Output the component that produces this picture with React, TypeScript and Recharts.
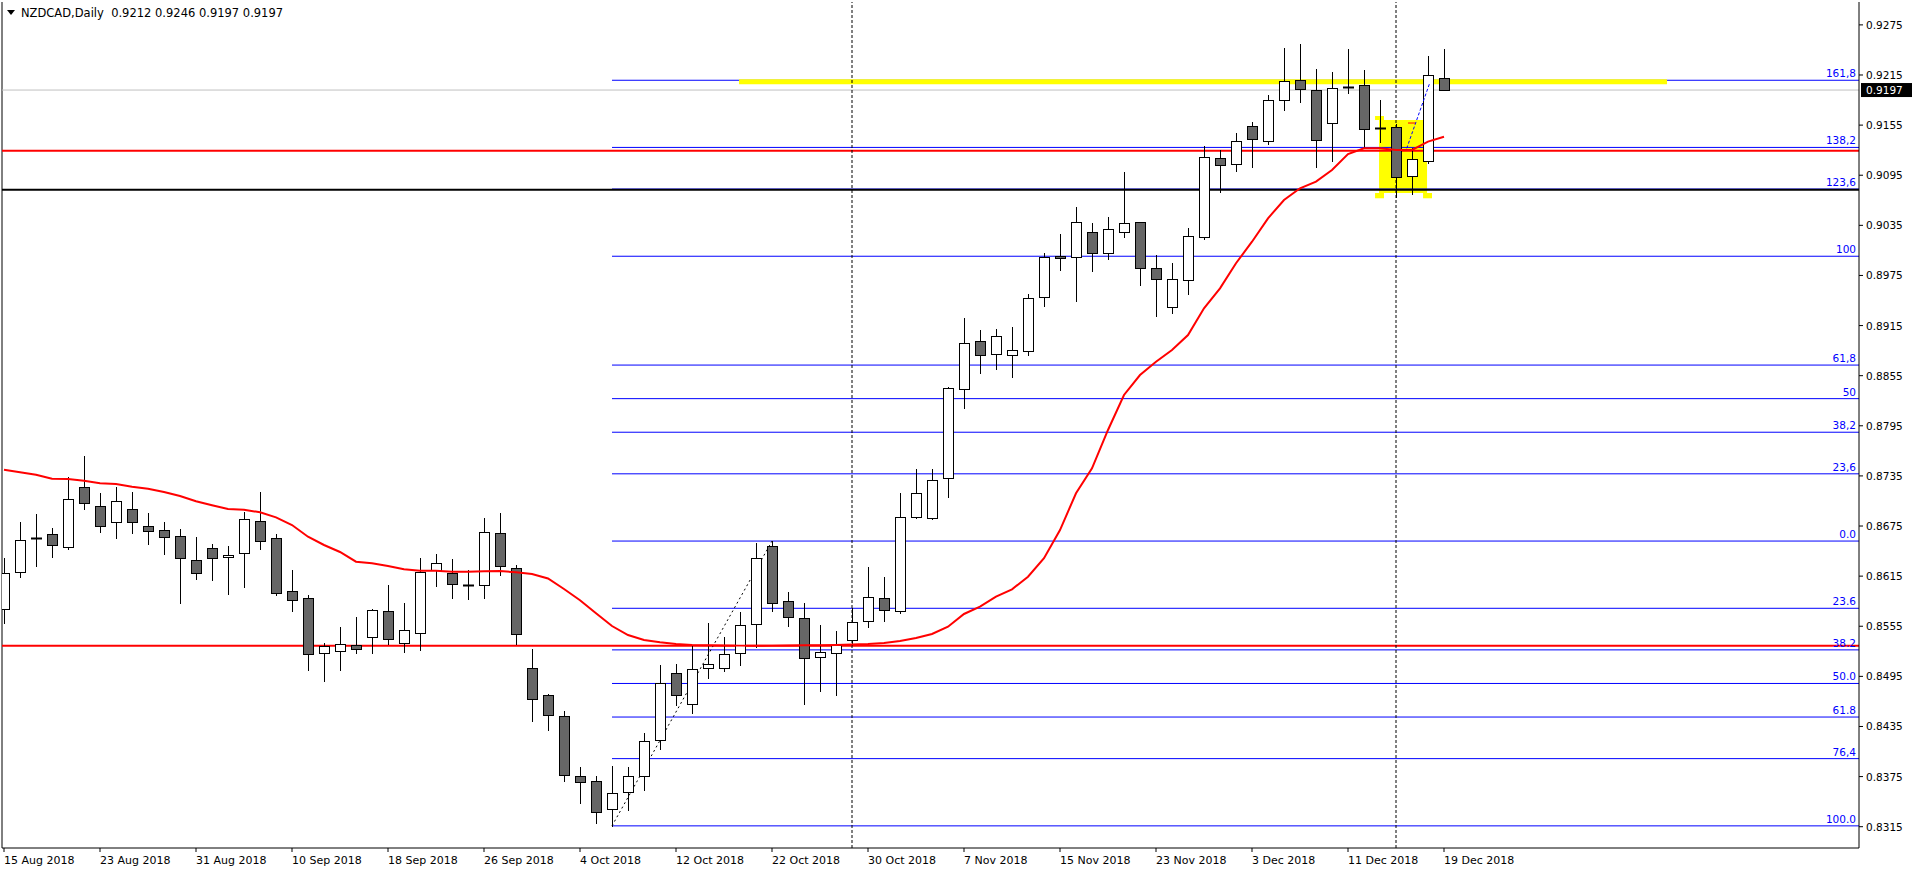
import React from 'react';
import { ComposedChart, Bar, Line, XAxis, YAxis, ReferenceLine, ReferenceArea } from 'recharts';

const dates = [
  '15 Aug 2018','16 Aug 2018','17 Aug 2018','20 Aug 2018','21 Aug 2018','22 Aug 2018','23 Aug 2018','24 Aug 2018','27 Aug 2018','28 Aug 2018','29 Aug 2018','30 Aug 2018','31 Aug 2018',
  '3 Sep 2018','4 Sep 2018','5 Sep 2018','6 Sep 2018','7 Sep 2018','10 Sep 2018','11 Sep 2018','12 Sep 2018','13 Sep 2018','14 Sep 2018','17 Sep 2018','18 Sep 2018','19 Sep 2018','20 Sep 2018','21 Sep 2018','24 Sep 2018','25 Sep 2018','26 Sep 2018','27 Sep 2018','28 Sep 2018',
  '1 Oct 2018','2 Oct 2018','3 Oct 2018','4 Oct 2018','5 Oct 2018','8 Oct 2018','9 Oct 2018','10 Oct 2018','11 Oct 2018','12 Oct 2018','15 Oct 2018','16 Oct 2018','17 Oct 2018','18 Oct 2018','19 Oct 2018','22 Oct 2018','23 Oct 2018','24 Oct 2018','25 Oct 2018','26 Oct 2018','29 Oct 2018','30 Oct 2018','31 Oct 2018',
  '1 Nov 2018','2 Nov 2018','5 Nov 2018','6 Nov 2018','7 Nov 2018','8 Nov 2018','9 Nov 2018','12 Nov 2018','13 Nov 2018','14 Nov 2018','15 Nov 2018','16 Nov 2018','19 Nov 2018','20 Nov 2018','21 Nov 2018','22 Nov 2018','23 Nov 2018','26 Nov 2018','27 Nov 2018','28 Nov 2018','29 Nov 2018','30 Nov 2018',
  '3 Dec 2018','4 Dec 2018','5 Dec 2018','6 Dec 2018','7 Dec 2018','10 Dec 2018','11 Dec 2018','12 Dec 2018','13 Dec 2018','14 Dec 2018','17 Dec 2018','18 Dec 2018','19 Dec 2018',
];

const open = [
  0.85753, 0.86196, 0.8661, 0.86651, 0.86502, 0.87214, 0.86986, 0.86795, 0.8695, 0.86747,
  0.86699, 0.86627, 0.8634, 0.86483, 0.86375, 0.86423, 0.86807, 0.86603, 0.85968, 0.85885,
  0.85226, 0.8525, 0.85322, 0.85418, 0.85729, 0.85346, 0.85466, 0.8622, 0.86184, 0.86044,
  0.8604, 0.86663, 0.86244, 0.85047, 0.84723, 0.84472, 0.83753, 0.83694, 0.83358, 0.83562,
  0.83753, 0.84184, 0.84987, 0.84615, 0.85047, 0.85047, 0.85226, 0.85573, 0.86507, 0.85849,
  0.85645, 0.85178, 0.85226, 0.85382, 0.85609, 0.85885, 0.85729, 0.86854, 0.86842, 0.87321,
  0.88387, 0.88962, 0.88806, 0.88794, 0.88842, 0.89488, 0.89979, 0.89967, 0.90267, 0.90015,
  0.90267, 0.90386, 0.89836, 0.89369, 0.89692, 0.90207, 0.91153, 0.91081, 0.91536, 0.91356,
  0.91847, 0.92087, 0.91967, 0.91572, 0.92003, 0.92027, 0.91519, 0.91531, 0.90937, 0.91117,
  0.9212,
];
const high = [
  0.86364, 0.86798, 0.86894, 0.86726, 0.87333, 0.87588, 0.87145, 0.87217, 0.87157, 0.86906,
  0.86798, 0.86714, 0.86619, 0.86535, 0.86511, 0.86921, 0.87157, 0.86654, 0.86223, 0.85921,
  0.85346, 0.85541, 0.85661, 0.85753, 0.8604, 0.85825, 0.86364, 0.86411, 0.86352, 0.8622,
  0.86842, 0.86902, 0.8628, 0.85274, 0.84735, 0.84535, 0.83861, 0.83757, 0.83877, 0.83865,
  0.84272, 0.8509, 0.85098, 0.85317, 0.85589, 0.85421, 0.85721, 0.86547, 0.8657, 0.8596,
  0.85828, 0.85565, 0.85493, 0.85765, 0.86259, 0.8614, 0.87145, 0.87429, 0.87429, 0.88411,
  0.89237, 0.89093, 0.89105, 0.89129, 0.89524, 0.90015, 0.90243, 0.90566, 0.90374, 0.90446,
  0.90985, 0.9039, 0.89991, 0.89896, 0.90315, 0.91296, 0.91249, 0.91452, 0.91584, 0.91907,
  0.92473, 0.92518, 0.92218, 0.92182, 0.92458, 0.92206, 0.91847, 0.91563, 0.91272, 0.92374,
  0.9246,
];
const low = [
  0.85592, 0.86143, 0.86275, 0.86383, 0.86478, 0.86957, 0.86682, 0.8661, 0.8667, 0.86538,
  0.86419, 0.85832, 0.86119, 0.86107, 0.8594, 0.86023, 0.86478, 0.85924, 0.85736, 0.8503,
  0.84898, 0.8503, 0.85226, 0.85233, 0.85341, 0.85245, 0.85269, 0.86035, 0.85892, 0.8588,
  0.85892, 0.86167, 0.85341, 0.84419, 0.84311, 0.83701, 0.83437, 0.83198, 0.8316, 0.8335,
  0.83593, 0.8408, 0.84611, 0.84515, 0.84934, 0.85018, 0.8509, 0.85305, 0.85736, 0.85553,
  0.84623, 0.84778, 0.8473, 0.85325, 0.85545, 0.85616, 0.8571, 0.86845, 0.8683, 0.87101,
  0.88159, 0.88579, 0.88626, 0.88531, 0.88794, 0.89381, 0.89812, 0.89441, 0.898, 0.89943,
  0.90207, 0.89632, 0.89261, 0.89297, 0.89524, 0.90192, 0.90753, 0.90997, 0.91052, 0.91328,
  0.91727, 0.91823, 0.91045, 0.91117, 0.91931, 0.91272, 0.91351, 0.90693, 0.90722, 0.91096,
  0.9197,
];
const close = [
  0.86184, 0.86583, 0.8661, 0.86519, 0.8707, 0.87022, 0.86747, 0.87046, 0.86795, 0.86687,
  0.86615, 0.86364, 0.86184, 0.86364, 0.86399, 0.8683, 0.86567, 0.85944, 0.85861, 0.85214,
  0.8531, 0.85334, 0.85274, 0.85741, 0.85394, 0.85501, 0.86196, 0.86304, 0.86052, 0.86044,
  0.86675, 0.86268, 0.85454, 0.84675, 0.84484, 0.83765, 0.83682, 0.83322, 0.8355, 0.83753,
  0.84172, 0.84867, 0.84723, 0.85035, 0.85094, 0.85214, 0.85561, 0.86364, 0.85825, 0.85657,
  0.85166, 0.85238, 0.85329, 0.85597, 0.85897, 0.85741, 0.86854, 0.87142, 0.87297, 0.88399,
  0.88938, 0.88794, 0.89022, 0.88854, 0.89476, 0.89967, 0.89955, 0.90386, 0.90015, 0.90303,
  0.90374, 0.89836, 0.89704, 0.89704, 0.90219, 0.91165, 0.91069, 0.91356, 0.9138, 0.91847,
  0.92075, 0.91979, 0.91368, 0.91991, 0.92003, 0.915, 0.91519, 0.90925, 0.91141, 0.92146,
  0.9197,
];
const ma = [
  0.87424, 0.87393, 0.87364, 0.87317, 0.87313, 0.87293, 0.87261, 0.87253, 0.87221, 0.87197,
  0.87157, 0.87109, 0.87046, 0.86998, 0.86954, 0.86945, 0.86914, 0.86854, 0.86762, 0.86622,
  0.86523, 0.86439, 0.86323, 0.86304, 0.86271, 0.86232, 0.86215, 0.86215, 0.86203, 0.86203,
  0.86208, 0.86211, 0.86196, 0.86176, 0.86122, 0.85996, 0.85861, 0.85705, 0.85553, 0.85445,
  0.85385, 0.85358, 0.85337, 0.85325, 0.85322, 0.8532, 0.85318, 0.85316, 0.85318, 0.8532,
  0.85322, 0.85322, 0.85325, 0.8533, 0.85337, 0.85349, 0.85373, 0.85409, 0.85457, 0.85545,
  0.85697, 0.85784, 0.85904, 0.85992, 0.86143, 0.86364, 0.86702, 0.87142, 0.87441, 0.879,
  0.88319, 0.88558, 0.88717, 0.88857, 0.89037, 0.89357, 0.89596, 0.89896, 0.90154, 0.90434,
  0.90653, 0.90794, 0.90873, 0.91013, 0.91204, 0.91272, 0.91272, 0.91252, 0.91252, 0.91352,
  0.91411,
];

const tickLabels = [
  '15 Aug 2018','23 Aug 2018','31 Aug 2018','10 Sep 2018','18 Sep 2018','26 Sep 2018','4 Oct 2018','12 Oct 2018',
  '22 Oct 2018','30 Oct 2018','7 Nov 2018','15 Nov 2018','23 Nov 2018','3 Dec 2018','11 Dec 2018','19 Dec 2018',
];
const priceTicks = [
  0.8315, 0.8375, 0.8435, 0.8495, 0.8555, 0.8615, 0.8675, 0.8735, 0.8795,
  0.8855, 0.8915, 0.8975, 0.9035, 0.9095, 0.9155, 0.9215, 0.9275,
];

const lowerFibLevels = [0.8657, 0.85765, 0.85267, 0.84865, 0.84463, 0.83965, 0.8316];
const lowerFibLabels = ['0.0', '23.6', '38.2', '50.0', '61.8', '76,4', '100.0'];
const upperFibLevels = [0.87375, 0.87873, 0.88275, 0.88677, 0.8998, 0.90785, 0.91283, 0.92087];
const upperFibLabels = ['23,6', '38,2', '50', '61,8', '100', '123,6', '138,2', '161,8'];

const redLevels = [0.91244, 0.85317];
const blackLevel = 0.90777;
const vLineDates = ['29 Oct 2018', '14 Dec 2018'];
const swingLow = { date: '8 Oct 2018', price: 0.8316 };
const swingHigh = { date: '22 Oct 2018', price: 0.8657 };
const yellowBand = { from: 45.94, to: 103.94, price: 0.92069 };
const yellowBox = { x1: 85.94, x2: 88.94, y1: 0.90737, y2: 0.91611 };
const yellowHandles = [
  { x1: 85.69, x2: 86.25, y1: 0.91611, y2: 0.91659 },
  { x1: 85.69, x2: 86.25, y1: 0.90674, y2: 0.90737 },
  { x1: 88.69, x2: 89.25, y1: 0.90674, y2: 0.90737 },
];
const blueDotted = [{ x: 87.67, y: 0.91272 }, { x: 89.1, y: 0.9205 }];
const redDash = [{ x: 87.75, y: 0.91575 }, { x: 88.2, y: 0.91575 }];

const X_MIN = -0.125;
const X_MAX = 115.9375;
const Y_MIN = 0.82895;
const Y_MAX = 0.93024;

const rows = dates.map((d, i) => ({
  i,
  date: d,
  open: open[i],
  high: high[i],
  low: low[i],
  close: close[i],
  ma: ma[i],
  range: [low[i], high[i]],
}));

const tickIdx = tickLabels.map((t) => dates.indexOf(t));
const lastClose = close[close.length - 1];
const FONT = "'DejaVu Sans', Verdana, sans-serif";
const BLUE = '#0000ff';

const Candle = (props: any) => {
  const { x, y, width, height, payload } = props;
  if (x == null || y == null || !payload) return null;
  const top = Math.min(y, y + height);
  const bottom = Math.max(y, y + height);
  const span = payload.high - payload.low;
  const toY = (v: number) => (span === 0 ? top : top + ((payload.high - v) / span) * (bottom - top));
  const cx = Math.round(x + width / 2) + 0.5;
  const yo = toY(payload.open);
  const yc = toY(payload.close);
  const bull = payload.close >= payload.open;
  const bTop = Math.round(Math.min(yo, yc)) + 0.5;
  const bBot = Math.round(Math.max(yo, yc)) + 0.5;
  return (
    <g>
      <line x1={cx} x2={cx} y1={Math.round(top)} y2={Math.round(bottom) + 1} stroke="#000" strokeWidth={1} />
      {bBot - bTop < 1 ? (
        <line x1={cx - 5.5} x2={cx + 5.5} y1={bTop} y2={bTop} stroke="#000" strokeWidth={2} />
      ) : (
        <rect x={cx - 5} y={bTop} width={10} height={bBot - bTop} fill={bull ? '#ffffff' : '#666666'} stroke="#000" strokeWidth={1} />
      )}
    </g>
  );
};

const DateTick = (props: any) => {
  const { x, y, payload } = props;
  return (
    <text x={x} y={y} dy={10} textAnchor="start" fontSize={11} fontFamily={FONT} fill="#000">
      {dates[payload.value]}
    </text>
  );
};

const PriceTick = (props: any) => {
  const { x, y, payload } = props;
  return (
    <text x={x + 1} y={y} dy={4} textAnchor="start" fontSize={10.5} fontFamily={FONT} fill="#000">
      {Number(payload.value).toFixed(4)}
    </text>
  );
};

const PriceTag = (props: any) => {
  const vb = props.viewBox || {};
  const yy = vb.y;
  const xr = vb.x + vb.width;
  return (
    <g>
      <rect x={xr + 2} y={yy - 7} width={51} height={14} fill="#000" />
      <text x={xr + 7} y={yy + 4} fontSize={10.5} fontFamily={FONT} fill="#fff">
        {lastClose.toFixed(4)}
      </text>
    </g>
  );
};

const fibLabel = (text: string) => ({
  value: text,
  position: 'insideBottomRight' as const,
  offset: 3,
  fill: BLUE,
  fontSize: 10.5,
  fontFamily: FONT,
});

export default function App() {
  const fibStart = dates.indexOf(swingLow.date);
  return (
    <div style={{ position: 'absolute', left: 0, top: 0, width: 1912, height: 872, background: '#fff', overflow: 'hidden', fontFamily: FONT }}>
      <ComposedChart width={1912} height={872} data={rows} margin={{ top: 2, right: 0, bottom: 0, left: 2 }}>
        <XAxis
          type="number"
          dataKey="i"
          domain={[X_MIN, X_MAX]}
          allowDataOverflow
          ticks={tickIdx}
          interval={0}
          height={24}
          tickSize={4}
          tickMargin={2}
          axisLine={{ stroke: '#000' }}
          tickLine={{ stroke: '#000' }}
          tick={(p: any) => <DateTick {...p} />}
        />
        <YAxis
          orientation="right"
          type="number"
          domain={[Y_MIN, Y_MAX]}
          allowDataOverflow
          ticks={priceTicks}
          interval={0}
          width={53}
          tickSize={4}
          tickMargin={2}
          axisLine={{ stroke: '#000' }}
          tickLine={{ stroke: '#000' }}
          tick={(p: any) => <PriceTick {...p} />}
        />

        <ReferenceArea x1={yellowBox.x1} x2={yellowBox.x2} y1={yellowBox.y1} y2={yellowBox.y2} fill="#ffff00" fillOpacity={1} stroke="none" zIndex={10} />
        {yellowHandles.map((h, k) => (
          <ReferenceArea key={'yh' + k} x1={h.x1} x2={h.x2} y1={h.y1} y2={h.y2} fill="#ffff00" fillOpacity={1} stroke="none" zIndex={10} />
        ))}

        <ReferenceLine x={X_MIN} stroke="#000" strokeWidth={1} zIndex={30} />
        <ReferenceLine y={lastClose} stroke="#c0c0c0" strokeWidth={1} label={PriceTag} zIndex={30} />

        {upperFibLevels.map((v, k) => (
          <ReferenceLine
            key={'uf' + k}
            segment={[{ x: fibStart, y: v }, { x: X_MAX, y: v }]}
            stroke={BLUE}
            strokeWidth={1}
            label={fibLabel(upperFibLabels[k])}
            zIndex={40}
          />
        ))}
        {lowerFibLevels.map((v, k) => (
          <ReferenceLine
            key={'lf' + k}
            segment={[{ x: fibStart, y: v }, { x: X_MAX, y: v }]}
            stroke={BLUE}
            strokeWidth={1}
            label={fibLabel(lowerFibLabels[k])}
            zIndex={40}
          />
        ))}

        <ReferenceLine
          segment={[{ x: yellowBand.from, y: yellowBand.price }, { x: yellowBand.to, y: yellowBand.price }]}
          stroke="#ffff00"
          strokeWidth={5}
          zIndex={45}
        />

        {redLevels.map((v, k) => (
          <ReferenceLine key={'rl' + k} y={v} stroke="#ff0000" strokeWidth={2} zIndex={50} />
        ))}
        <ReferenceLine y={blackLevel} stroke="#000" strokeWidth={2} zIndex={50} />

        {vLineDates.map((d) => (
          <ReferenceLine key={d} x={dates.indexOf(d)} stroke="#000" strokeWidth={1} strokeDasharray="3 2" zIndex={60} />
        ))}
        <ReferenceLine
          segment={[
            { x: dates.indexOf(swingLow.date), y: swingLow.price },
            { x: dates.indexOf(swingHigh.date), y: swingHigh.price },
          ]}
          stroke="#000"
          strokeWidth={1}
          strokeDasharray="2 3"
          zIndex={60}
        />

        <Bar dataKey="range" barSize={10} shape={Candle} isAnimationActive={false} />
        <Line dataKey="ma" type="linear" stroke="#ff0000" strokeWidth={2} dot={false} activeDot={false} isAnimationActive={false} />

        <ReferenceLine segment={blueDotted} stroke={BLUE} strokeWidth={1} strokeDasharray="3 2" zIndex={700} />
        <ReferenceLine segment={redDash} stroke="#ff0000" strokeWidth={1} zIndex={700} />
      </ComposedChart>

      <div style={{ position: 'absolute', left: 5, top: 6, height: 14, display: 'flex', alignItems: 'center', fontSize: 11.5, fontFamily: FONT, color: '#000', whiteSpace: 'pre' }}>
        <svg width={12} height={12} style={{ marginRight: 4 }}>
          <polygon points="2,3 10,3 6,8" fill="#000" />
        </svg>
        <span>{'NZDCAD,Daily  ' + [open[90], high[90], low[90], close[90]].map((v) => v.toFixed(4)).join(' ')}</span>
      </div>
    </div>
  );
}
